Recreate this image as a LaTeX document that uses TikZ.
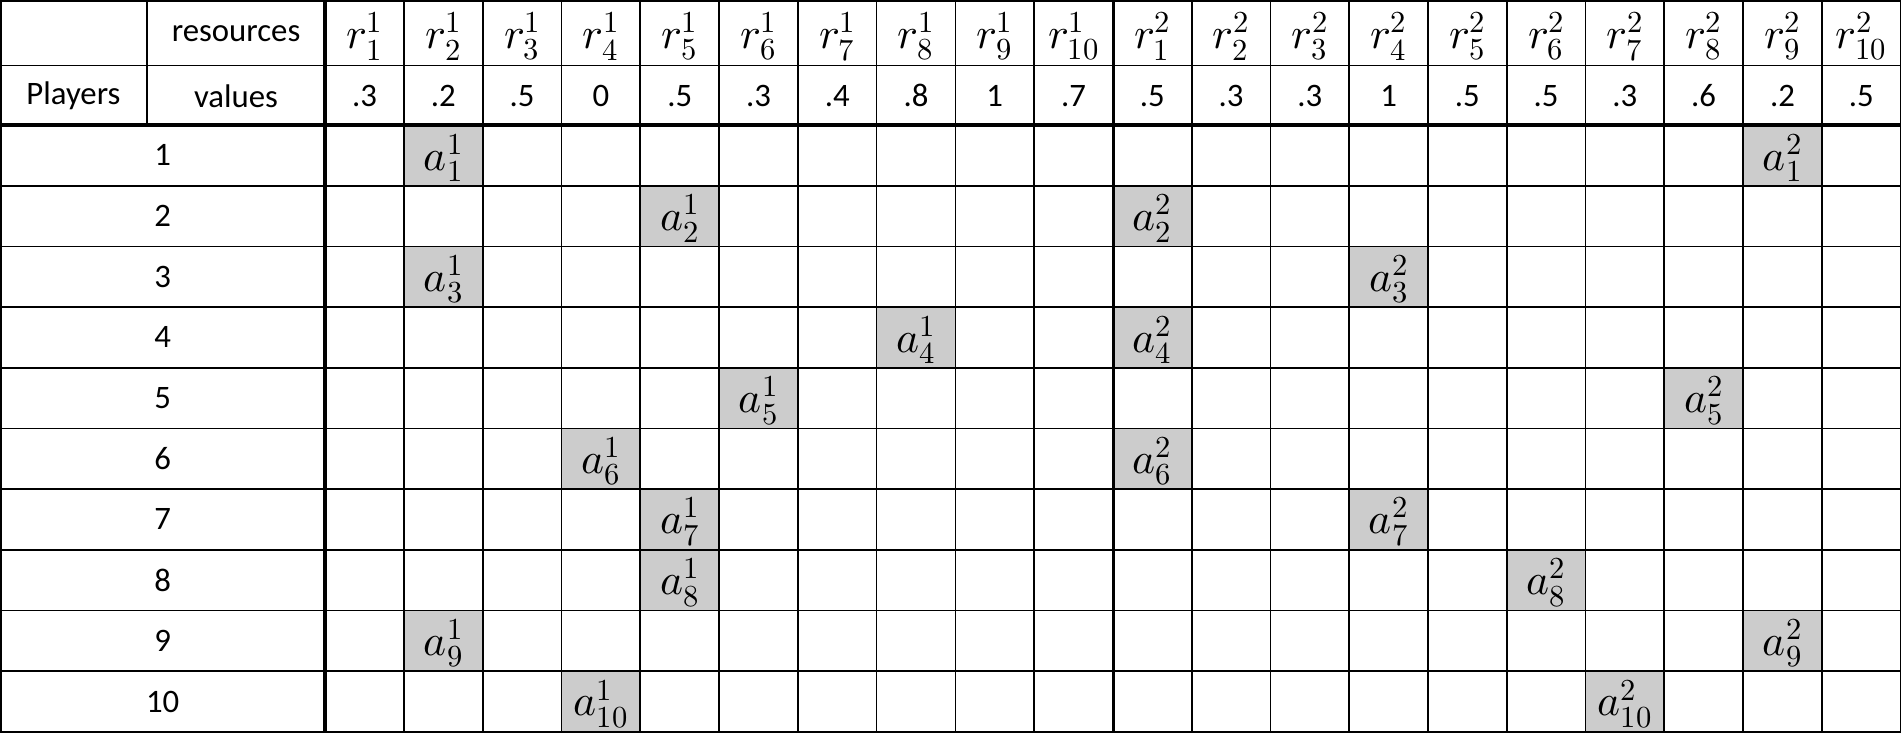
\documentclass[tikz,border=0pt]{standalone}
\usepackage{fontspec}
\usepackage{unicode-math}
\setmainfont{Carlito}
\setmathfont{Latin Modern Math}
\begin{document}
\begin{tikzpicture}[x=1pt,y=-1pt,
  thin/.style={line width=1.4pt},
  thick/.style={line width=3pt},
  lbl/.style={font=\fontsize{27}{32}\selectfont, inner sep=0pt},
  mlbl/.style={font=\fontsize{36}{40}\selectfont, inner sep=0pt},
  shade/.style={fill=black!20}]
\useasboundingbox (0,0) rectangle (1568,616);
\def\cw{64.9}
% shaded cells
\foreach \r/\c in {1/2,1/19,2/5,2/11,3/2,3/14,4/8,4/11,5/6,5/18,6/4,6/11,7/5,7/14,8/5,8/16,9/2,9/19,10/4,10/17}{
  \fill[shade] ({268+\cw*(\c-1)},{103+50*(\r-1)}) rectangle ++(\cw,50);
  \node[mlbl] (a\r-\c) at ({268+\cw*(\c-0.5)},{103+50*(\r-0.5)+2}) {$a^{\ifnum\c>10 2\else 1\fi}_{\r}$};
}
% grid
\foreach \i in {0,...,20}{\draw[thin] ({268+\cw*\i},0) -- ({268+\cw*\i},604);}
\draw[thin] (0.7,0) -- (0.7,604);
\draw[thin] (121,0) -- (121,103);
\draw[thin] (0,0.7) -- (1566,0.7);
\draw[thin] (0,54) -- (1566,54);
\foreach \r in {1,...,10}{\draw[thin] (0,{103+50*\r}) -- (1566,{103+50*\r});}
\draw[thick] (0,103) -- (1566,103);
\draw[thick] (268,0) -- (268,604);
\draw[thick] (917.5,0) -- (917.5,604);
% header text
\node[lbl] (res) at (194.5,28) {resources};
\node[lbl] (pl) at (60.5,79) {Players};
\node[lbl] (val) at (194.5,79) {values};
\foreach \k in {1,...,10}{
  \node[mlbl] (r1-\k) at ({268+\cw*(\k-0.5)},30) {$r^{1}_{\k}$};
  \node[mlbl] (r2-\k) at ({268+\cw*(\k+9.5)},30) {$r^{2}_{\k}$};
}
\foreach \v [count=\k] in {.3,.2,.5,0,.5,.3,.4,.8,1,.7,.5,.3,.3,1,.5,.5,.3,.6,.2,.5}{
  \node[lbl] (v\k) at ({268+\cw*(\k-0.5)},79) {\v};
}
\foreach \r in {1,...,10}{
  \node[lbl] (p\r) at (134,{103+50*(\r-0.5)}) {\r};
}
\end{tikzpicture}
\end{document}
